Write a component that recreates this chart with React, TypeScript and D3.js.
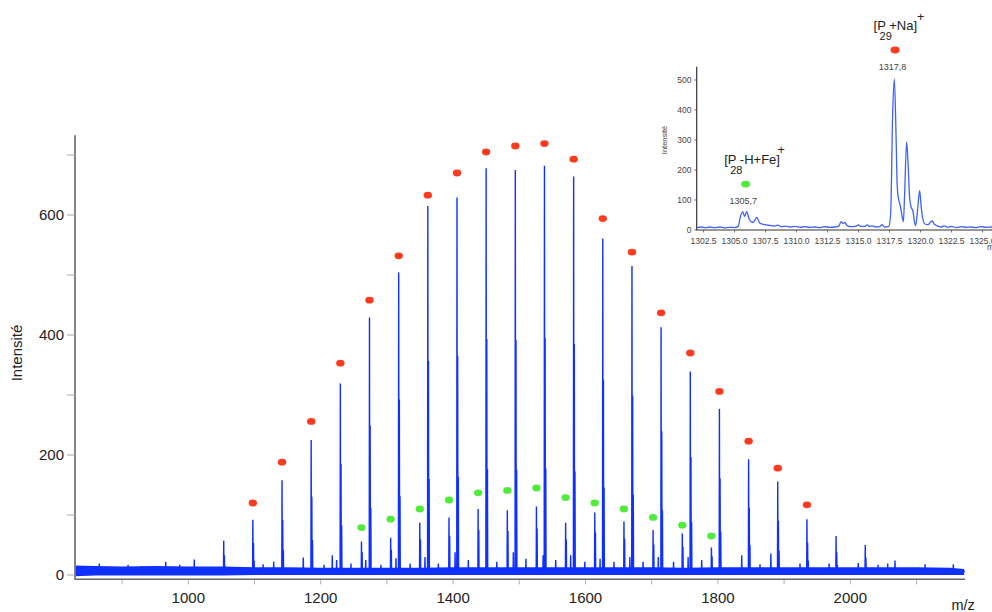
import React from 'react';
import * as d3 from 'd3';

// ---------- main spectrum data ----------
// [P_n + Na]+ series, n = 23..45
const redMz = [1053.5, 1097.5, 1141.6, 1185.6, 1229.7, 1273.7, 1317.8, 1361.8, 1405.9, 1449.9, 1494.0, 1538.0, 1582.1, 1626.1, 1670.2, 1714.2, 1758.3, 1802.3, 1846.4, 1890.4, 1934.5, 1978.5, 2022.6];
const redInt = [57, 92, 158, 225, 319, 429, 504, 615, 629, 678, 675, 682, 664, 561, 515, 413, 339, 277, 193, 156, 93, 65, 50];
const redDot = [null, 120, 188, 256, 353, 458, 532, 633, 670, 705, 715, 719, 693, 594, 538, 437, 370, 306, 223, 178, 117, null, null];
// isotope pattern (500 / 294 / 131)
const isoRatio = [1, 0.58, 0.26];

// [P_n - H + Fe]+ series, n = 27..39
const greenMz = [1261.6, 1305.7, 1349.7, 1393.8, 1437.8, 1481.9, 1525.9, 1570.0, 1614.0, 1658.1, 1702.1, 1746.2, 1790.2];
const greenInt = [56, 62, 87, 96, 110, 108, 114, 87, 104, 89, 75, 69, 46];
const greenDot = [79, 93, 110, 125, 137, 141, 145, 129, 120, 110, 96, 83, 65];
const greenIso = [1, 0.68];

// small peaks above the noise
const minorMz = [865.6, 909, 929.6, 965.9, 987, 1009, 1113, 1129, 1173.7, 1205, 1217.5, 1224, 1245.8, 1268, 1291, 1313.7, 1335, 1357.5, 1377.7, 1403, 1423, 1466, 1491, 1510, 1536, 1555, 1577.6, 1599, 1622, 1643, 1667, 1687, 1710, 1733, 1755, 1775.5, 1836, 1863.6, 1880, 1924, 1968, 2012, 2042, 2056.5, 2067.5, 2113, 2155.6];
const minorInt = [19, 17, 15, 22, 17, 26, 18, 22, 29, 17, 33, 25, 19, 25, 17, 28, 19, 30, 19, 38, 25, 22, 38, 27, 33, 25, 33, 22, 27, 22, 30, 22, 30, 22, 30, 25, 33, 18, 36, 19, 19, 20, 17, 19, 24, 18, 18];

// noise band envelope
const noiseMz = [829, 860, 900, 950, 1000, 1050, 1100, 1150, 1200, 1250, 1300, 1350, 1400, 1450, 1500, 1550, 1600, 1650, 1700, 1750, 1800, 1850, 1900, 1950, 2000, 2050, 2100, 2150, 2172];
const noiseHigh = [16, 15, 14, 15, 14, 14, 13, 13, 12, 12, 12, 12, 13, 13, 13, 13, 13, 13, 13, 12, 13, 13, 13, 13, 13, 13, 13, 12, 10];
const noiseLow = [-2, -1, -1, -1, -1, -1, 0, 0, 0, 0, 0, 0, 0, 0, 0, 0, 0, 0, 0, 0, 0, 0, 0, 0, 0, 0, 0, 0, 0];
const baseLevel = 6;

const xTicks = [900, 1000, 1100, 1200, 1300, 1400, 1500, 1600, 1700, 1800, 1900, 2000, 2100];
const xTickLabels = [1000, 1200, 1400, 1600, 1800, 2000];
const yTicks = [0, 100, 200, 300, 400, 500, 600, 700];
const yTickLabels = [0, 200, 400, 600];

// ---------- inset data ----------
const insetMz = [1302.0, 1302.3, 1302.7, 1303.0, 1303.4, 1303.8, 1304.2, 1304.6, 1305.0, 1305.3, 1305.45, 1305.66, 1305.82, 1305.98, 1306.2, 1306.47, 1306.65, 1306.79, 1307.06, 1307.46, 1307.86, 1308.2, 1308.5, 1308.8, 1309.1, 1309.5, 1309.9, 1310.3, 1310.7, 1311.1, 1311.5, 1311.9, 1312.3, 1312.7, 1313.1, 1313.4, 1313.6, 1313.75, 1313.9, 1314.1, 1314.4, 1314.8, 1315.0, 1315.2, 1315.5, 1315.7, 1315.9, 1316.1, 1316.4, 1316.7, 1316.9, 1317.1, 1317.45, 1317.6, 1317.75, 1317.89, 1318.02, 1318.12, 1318.22, 1318.35, 1318.5, 1318.62, 1318.72, 1318.88, 1319.0, 1319.12, 1319.25, 1319.38, 1319.5, 1319.61, 1319.75, 1319.93, 1320.05, 1320.15, 1320.36, 1320.6, 1320.85, 1320.95, 1321.1, 1321.4, 1321.7, 1321.9, 1322.2, 1322.5, 1322.9, 1323.3, 1323.7, 1324.1, 1324.5, 1324.9, 1325.3, 1325.8, 1326.2];
const insetInt = [8, 10, 7, 10, 8, 10, 7, 9, 8, 12, 40, 61, 45, 61, 35, 25, 34, 42, 22, 18, 15, 13, 16, 11, 13, 10, 12, 9, 11, 9, 10, 8, 11, 9, 10, 12, 28, 22, 25, 14, 11, 13, 17, 12, 12, 17, 12, 14, 10, 11, 18, 10, 12, 60, 380, 503, 330, 150, 105, 85, 50, 28, 120, 294, 220, 110, 75, 65, 30, 15, 60, 131, 80, 45, 20, 18, 28, 30, 20, 13, 10, 14, 9, 12, 8, 11, 9, 10, 8, 11, 9, 10, 9];
const insetXTicks = [1302.5, 1305.0, 1307.5, 1310.0, 1312.5, 1315.0, 1317.5, 1320.0, 1322.5, 1325.0];
const insetYTicks = [0, 100, 200, 300, 400, 500];
const insetAnnots = [
  { mz: 1305.9, label: '1305,7', n: '28', ion: '[P -H+Fe]', color: '#52ea3c', dot: 153 },
  { mz: 1317.95, label: '1317,8', n: '29', ion: '[P +Na]', color: '#ff3b1f', dot: 600 },
];

const FONT = "'Liberation Sans', Arial, sans-serif";
const BLUE = '#1030ff';

export default function App() {
  // main scales
  const x = d3.scaleLinear().domain([1000, 2000]).range([188.3, 850.3]);
  const y = d3.scaleLinear().domain([0, 600]).range([575, 215]);
  const xMin = x.invert(75);
  const xMax = x.invert(965);
  const axisY = y(-7.2);
  const axisTop = y(733);

  // build spikes
  const spikes: [number, number][] = [];
  redMz.forEach((m, i) => isoRatio.forEach((r, k) => spikes.push([m + k, redInt[i] * r])));
  greenMz.forEach((m, i) => greenIso.forEach((r, k) => spikes.push([m + k, greenInt[i] * r])));
  minorMz.forEach((m, i) => spikes.push([m, minorInt[i]]));
  spikes.sort((a, b) => a[0] - b[0]);
  const pts: [number, number][] = [[xMin, baseLevel]];
  spikes.forEach(([m, h]) => {
    pts.push([m - 0.4, baseLevel], [m, h], [m + 0.4, baseLevel]);
  });
  pts.push([xMax, baseLevel]);
  const line = d3.line<[number, number]>().x(d => x(d[0])).y(d => y(d[1]));
  const band = d3.area<number>()
    .x((_, i) => x(noiseMz[i]))
    .y0((_, i) => y(noiseLow[i]))
    .y1((_, i) => y(noiseHigh[i]));

  // inset scales
  const ix = d3.scaleLinear().domain([1302.5, 1325]).range([703.5, 703.5 + 22.5 * 12.4]);
  const iy = d3.scaleLinear().domain([0, 500]).range([230, 80]);
  const iAxisX = 696.7;
  const iLine = d3.line<number>().x((_, i) => ix(insetMz[i])).y(d => iy(d)).curve(d3.curveMonotoneX);

  return (
    <svg width={992} height={612} style={{ position: 'absolute', left: 0, top: 0, background: '#fff' }} fontFamily={FONT}>
      <rect x={0} y={0} width={992} height={612} fill="#fff" />
      {/* main noise + spectrum */}
      <path d={band(noiseHigh) || ''} fill={BLUE} />
      <path d={line(pts) || ''} fill="none" stroke={BLUE} strokeWidth={1.4} strokeLinejoin="miter" />

      {/* main axes */}
      <line x1={75} x2={965} y1={axisY} y2={axisY} stroke="#666" strokeWidth={1.5} />
      <line x1={75} x2={75} y1={axisTop} y2={axisY + 0.7} stroke="#777" strokeWidth={1.8} />
      {xTicks.map(t => (
        <line key={'xt' + t} x1={x(t)} x2={x(t)} y1={axisY + 1} y2={axisY + 5} stroke="#aaa" strokeWidth={1} />
      ))}
      {xTickLabels.map(t => (
        <text key={'xl' + t} x={x(t)} y={603} textAnchor="middle" fontSize={15} fill="#222">{t}</text>
      ))}
      {yTicks.map(t => (
        <line key={'yt' + t} x1={67} x2={75} y1={y(t)} y2={y(t)} stroke="#aaa" strokeWidth={1} />
      ))}
      {yTickLabels.map(t => (
        <text key={'yl' + t} x={64} y={y(t) + 5} textAnchor="end" fontSize={15} fill="#222">{t}</text>
      ))}
      <text transform={`translate(22,353) rotate(-90)`} textAnchor="middle" fontSize={15} fill="#222">Intensité</text>
      <text x={951.5} y={610} fontSize={14.5} fill="#222">m/z</text>

      {/* dots */}
      {redMz.map((m, i) => redDot[i] == null ? null : (
        <ellipse key={'rd' + i} cx={x(m)} cy={y(redDot[i] as number)} rx={4.2} ry={3.4} fill="#ff3b1f" />
      ))}
      {greenMz.map((m, i) => (
        <ellipse key={'gd' + i} cx={x(m)} cy={y(greenDot[i])} rx={4.2} ry={3.4} fill="#52ea3c" />
      ))}

      {/* inset */}
      <path d={iLine(insetInt) || ''} fill="none" stroke="#3e62f6" strokeWidth={1.3} />
      <line x1={iAxisX} x2={992} y1={230} y2={230} stroke="#333" strokeWidth={1.2} />
      <line x1={iAxisX} x2={iAxisX} y1={66.7} y2={230.6} stroke="#333" strokeWidth={1.2} />
      {insetXTicks.map(t => (
        <g key={'ixt' + t}>
          <line x1={ix(t)} x2={ix(t)} y1={230} y2={232.5} stroke="#555" strokeWidth={0.8} />
          <text x={ix(t)} y={243.5} textAnchor="middle" fontSize={8.5} fill="#444">{t.toFixed(1)}</text>
        </g>
      ))}
      {insetYTicks.map(t => (
        <g key={'iyt' + t}>
          <line x1={iAxisX - 2.5} x2={iAxisX} y1={iy(t)} y2={iy(t)} stroke="#555" strokeWidth={0.8} />
          <text x={691.5} y={iy(t) + 3} textAnchor="end" fontSize={8.5} fill="#444">{t}</text>
        </g>
      ))}
      <text transform="translate(667,140) rotate(-90)" textAnchor="middle" fontSize={7.5} fill="#444">Intensité</text>
      <text x={987} y={250} fontSize={8.5} fill="#444">m/z</text>

      {insetAnnots.map((a, i) => {
        const cx = ix(a.mz);
        const cy = iy(a.dot);
        return (
          <g key={'ia' + i}>
            <ellipse cx={cx} cy={cy} rx={4.6} ry={3.4} fill={a.color} />
            <text x={cx - 2.5} y={cy + 20} textAnchor="middle" fontSize={9} fill="#444">{a.label}</text>
            <text x={cx - 21.5} y={cy - 20} fontSize={13} fill="#222">{a.ion}</text>
            <text x={cx - 15.5} y={cy - 9.8} fontSize={11} fill="#222">{a.n}</text>
          </g>
        );
      })}
      <text x={777.5} y={154} fontSize={12.5} fill="#222">+</text>
      <text x={917} y={21} fontSize={12.5} fill="#222">+</text>
    </svg>
  );
}
